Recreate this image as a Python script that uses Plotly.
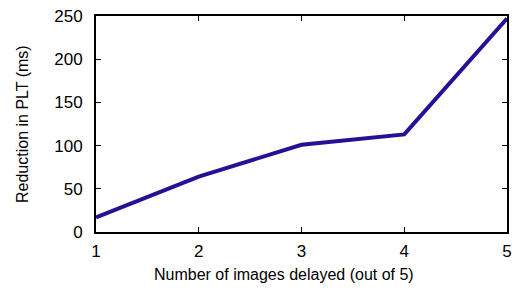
import plotly.graph_objects as go

images_delayed = [1, 2, 3, 4, 5]
reduction_ms = [17, 64, 101, 113, 247]
x_ticks = [1, 2, 3, 4, 5]
y_ticks = [0, 50, 100, 150, 200, 250]
x_title = "Number of images delayed (out of 5)"
y_title = "Reduction in PLT (ms)"

fig = go.Figure()
fig.add_trace(go.Scatter(
    x=images_delayed, y=reduction_ms, mode="lines",
    line=dict(color="rgb(36,18,150)", width=4),
    showlegend=False, cliponaxis=True,
))

fam = "Liberation Sans, Arial, sans-serif"
tick_font = dict(family=fam, size=17, color="black")
title_font = dict(family=fam, size=16, color="black")
axis_common = dict(
    showline=True, linecolor="black", linewidth=2, mirror="ticks",
    ticks="inside", ticklen=5, tickwidth=1, tickcolor="black",
    showgrid=False, zeroline=False, tickfont=tick_font,
)
fig.update_layout(
    width=519, height=291,
    margin=dict(l=96, r=7, t=11, b=59),
    plot_bgcolor="white", paper_bgcolor="white",
    font=title_font,
    xaxis=dict(range=[1, 5], tickvals=x_ticks, ticklabelstandoff=3, **axis_common),
    yaxis=dict(range=[0, 250], tickvals=y_ticks, ticklabelstandoff=8, **axis_common),
    annotations=[
        dict(text=x_title, xref="paper", yref="paper", x=0.457, y=0,
             xanchor="center", yanchor="middle", yshift=-42, showarrow=False,
             font=title_font),
        dict(text=y_title, xref="paper", yref="paper", x=0, y=0.5,
             xanchor="center", yanchor="middle", xshift=-74, textangle=-90,
             showarrow=False, font=title_font),
    ],
)
fig.write_html("out.html", config={"displayModeBar": False},
               post_script="document.body.style.margin='0';")
